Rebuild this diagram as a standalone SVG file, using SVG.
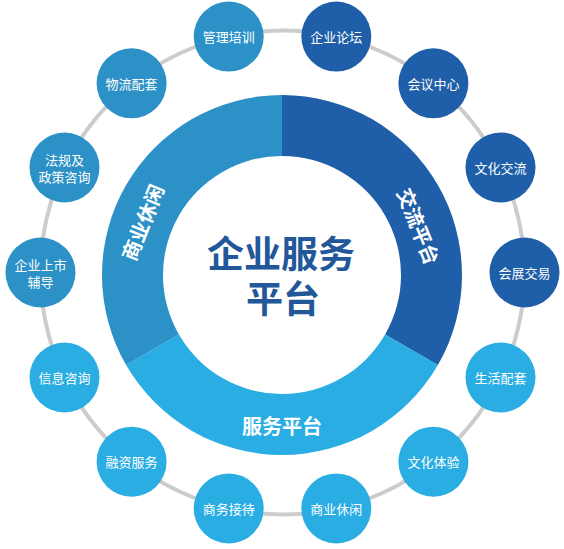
<svg xmlns="http://www.w3.org/2000/svg" width="564" height="549" viewBox="0 0 564 549">
<style>
.t{font-family:"Noto Sans CJK SC","Noto Sans",sans-serif;fill:#fff;text-anchor:middle;dominant-baseline:central}
.s{font-size:13px}
.b{font-size:20px;font-weight:bold}
.dk{fill:#1f5ea8}
.md{fill:#2b91c6}
.lt{fill:#29ade3}
.ctr{font-family:"Noto Sans CJK SC","Noto Sans",sans-serif;fill:#22579a;font-size:37px;font-weight:bold;text-anchor:middle;dominant-baseline:central}
</style>
<rect width="564" height="549" fill="#fff"/>
<g id="connectors">
<circle cx="282.5" cy="272.5" r="242" fill="none" stroke="#cccccc" stroke-width="4"/>
</g>
<g id="ring">
<path class="dk" d="M282,95 A180,180 0 0 1 437.88,365 L385.06,334.5 A119,119 0 0 0 282,156 Z"/>
<path class="lt" d="M437.88,365 A180,180 0 0 1 126.12,365 L178.94,334.5 A119,119 0 0 0 385.06,334.5 Z"/>
<path class="md" d="M126.12,365 A180,180 0 0 1 282,95 L282,156 A119,119 0 0 0 178.94,334.5 Z"/>
<text class="t b" transform="translate(142,222) rotate(-68)">商业休闲</text>
<text class="t b" transform="translate(419,226) rotate(68)">交流平台</text>
<text class="t b" x="282" y="425">服务平台</text>
</g>
<g id="center">
<text class="ctr" x="281" y="252">企业服务</text>
<text class="ctr" x="283" y="297">平台</text>
</g>
<g id="n0"><circle class="dk" cx="336.3" cy="36.6" r="35"/><text class="t s" x="336.3" y="36.6">企业论坛</text></g>
<g id="n1"><circle class="dk" cx="433.4" cy="83.3" r="35"/><text class="t s" x="433.4" y="83.3">会议中心</text></g>
<g id="n2"><circle class="dk" cx="500.5" cy="167.5" r="35"/><text class="t s" x="500.5" y="167.5">文化交流</text></g>
<g id="n3"><circle class="dk" cx="524.5" cy="272.5" r="35"/><text class="t s" x="524.5" y="272.5">会展交易</text></g>
<g id="n4"><circle class="lt" cx="500.5" cy="377.5" r="35"/><text class="t s" x="500.5" y="377.5">生活配套</text></g>
<g id="n5"><circle class="lt" cx="433.4" cy="461.7" r="35"/><text class="t s" x="433.4" y="461.7">文化体验</text></g>
<g id="n6"><circle class="lt" cx="336.3" cy="508.4" r="35"/><text class="t s" x="336.3" y="508.4">商业休闲</text></g>
<g id="n7"><circle class="lt" cx="228.7" cy="508.4" r="35"/><text class="t s" x="228.7" y="508.4">商务接待</text></g>
<g id="n8"><circle class="lt" cx="131.6" cy="461.7" r="35"/><text class="t s" x="131.6" y="461.7">融资服务</text></g>
<g id="n9"><circle class="lt" cx="64.5" cy="377.5" r="35"/><text class="t s" x="64.5" y="377.5">信息咨询</text></g>
<g id="n10"><circle class="md" cx="40.5" cy="272.5" r="35"/><text class="t s" x="40.5" y="264">企业上市</text><text class="t s" x="40.5" y="281">辅导</text></g>
<g id="n11"><circle class="md" cx="64.5" cy="167.5" r="35"/><text class="t s" x="64.5" y="159">法规及</text><text class="t s" x="64.5" y="176">政策咨询</text></g>
<g id="n12"><circle class="md" cx="131.6" cy="83.3" r="35"/><text class="t s" x="131.6" y="83.3">物流配套</text></g>
<g id="n13"><circle class="md" cx="228.7" cy="36.6" r="35"/><text class="t s" x="228.7" y="36.6">管理培训</text></g>
</svg>
